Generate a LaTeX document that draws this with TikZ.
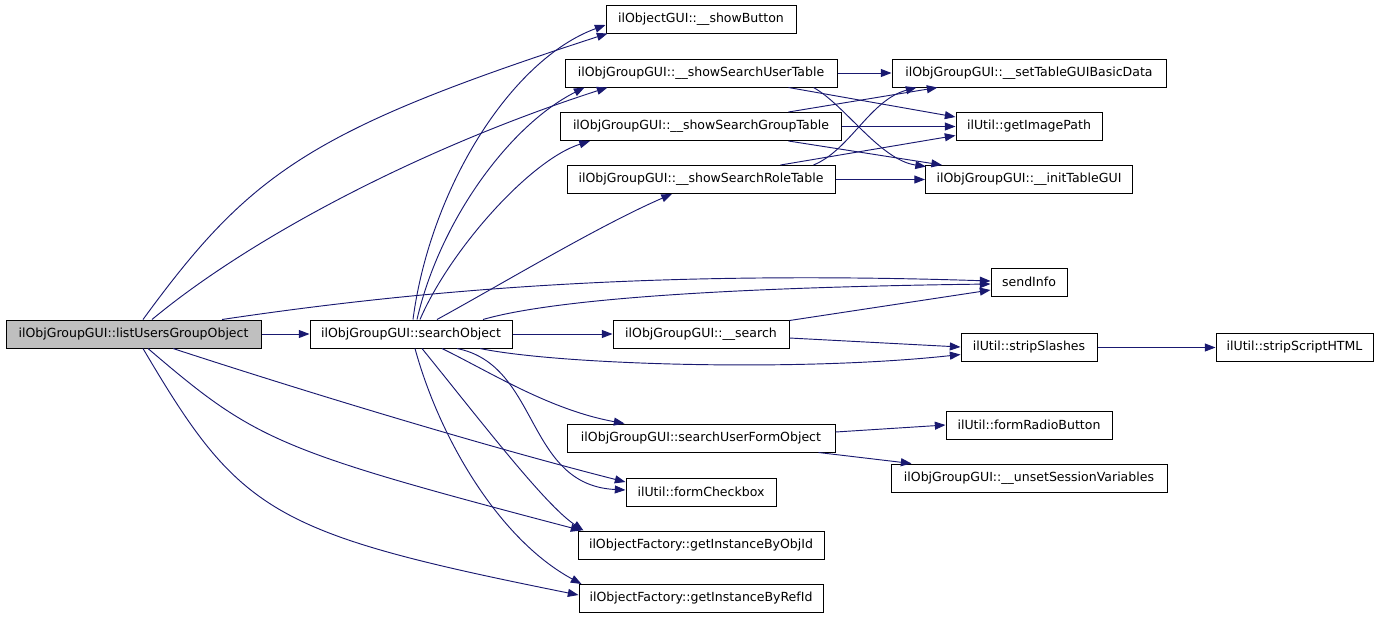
\documentclass[tikz,border=0pt]{standalone}
\usepackage{fontspec}
\setmainfont{DejaVu Sans}
\usetikzlibrary{arrows.meta}
\definecolor{edgeblue}{HTML}{191970}
\definecolor{rootgray}{HTML}{BFBFBF}
\tikzset{
  box/.style={draw=black, line width=0.75pt, inner sep=0pt, minimum height=21pt,
    font=\fontsize{9.4pt}{11pt}\selectfont, text=black},
  bw/.style={minimum width=#1*0.75pt},
  edge/.style={draw=edgeblue, line width=0.7pt, -{Triangle[length=8pt,width=6pt]}},
}
\begin{document}
\begin{tikzpicture}[x=0.75pt,y=-0.75pt]
\useasboundingbox (0,0) rectangle (1379,619);
% nodes
\node[box,bw=255,fill=rootgray] (A) at (133.5,334) {ilObjGroupGUI::listUsersGroupObject};
\node[box,bw=202] (B) at (411,334) {ilObjGroupGUI::searchObject};
\node[box,bw=190] (sb) at (701,19) {ilObjectGUI::\_\_showButton};
\node[box,bw=272] (sut) at (701,73) {ilObjGroupGUI::\_\_showSearchUserTable};
\node[box,bw=281] (sgt) at (701,126.5) {ilObjGroupGUI::\_\_showSearchGroupTable};
\node[box,bw=268] (srt) at (701,179.5) {ilObjGroupGUI::\_\_showSearchRoleTable};
\node[box,bw=274] (stg) at (1029,73) {ilObjGroupGUI::\_\_setTableGUIBasicData};
\node[box,bw=146] (gip) at (1029,126.5) {ilUtil::getImagePath};
\node[box,bw=207] (itg) at (1029,179.5) {ilObjGroupGUI::\_\_initTableGUI};
\node[box,bw=76] (si) at (1029,282) {sendInfo};
\node[box,bw=136] (ss) at (1029,347.5) {ilUtil::stripSlashes};
\node[box,bw=157] (ssh) at (1294.5,347.5) {ilUtil::stripScriptHTML};
\node[box,bw=166] (frb) at (1029,425) {ilUtil::formRadioButton};
\node[box,bw=276] (usv) at (1029,478) {ilObjGroupGUI::\_\_unsetSessionVariables};
\node[box,bw=176] (se) at (701,334) {ilObjGroupGUI::\_\_search};
\node[box,bw=268] (suf) at (701,438) {ilObjGroupGUI::searchUserFormObject};
\node[box,bw=150] (fc) at (701,492) {ilUtil::formCheckbox};
\node[box,bw=246] (gio) at (701,545) {ilObjectFactory::getInstanceByObjId};
\node[box,bw=244] (gir) at (701,598.5) {ilObjectFactory::getInstanceByRefId};
% edges from A
\draw[edge] (A.east) -- (B.west);
\draw[edge] ([shift={(9.5,0)}]A.north) .. controls (250,173) and (310,130) .. ([shift={(2,0)}]sb.south west);
\draw[edge] ([shift={(18.5,0)}]A.north) .. controls (250,238) and (420,148) .. ([shift={(43,0)}]sut.south west);
\draw[edge] ([shift={(88.5,0)}]A.north) .. controls (420,290) and (650,270) .. ([shift={(0,-1)}]si.west);
\draw[edge] ([shift={(39.5,0)}]A.south) .. controls (300,390) and (480,445) .. ([shift={(0,-10)}]fc.west);
\draw[edge] ([shift={(14.5,0)}]A.south) .. controls (255,440) and (275,450) .. ([shift={(4,0)}]gio.north west);
\draw[edge] ([shift={(9.5,0)}]A.south) .. controls (240,513) and (270,533) .. ([shift={(0,-3.5)}]gir.west);
% edges from B
\draw[edge] ([shift={(2,0)}]B.north) .. controls (430,190) and (510,60) .. ([shift={(0,6)}]sb.west);
\draw[edge] ([shift={(6,0)}]B.north) .. controls (440,220) and (510,125) .. ([shift={(20,0)}]sut.south west);
\draw[edge] ([shift={(9,0)}]B.north) .. controls (450,250) and (530,160) .. ([shift={(30,0)}]sgt.south west);
\draw[edge] ([shift={(26,0)}]B.north) .. controls (500,285) and (600,225) .. ([shift={(-29,0)}]srt.south);
\draw[edge] ([shift={(72,0)}]B.north) .. controls (540,303) and (680,288) .. ([shift={(0,2)}]si.west);
\draw[edge] (B.east) -- (se.west);
\draw[edge] ([shift={(69,0)}]B.south) .. controls (560,365) and (800,372) .. ([shift={(0,7)}]ss.west);
\draw[edge] ([shift={(31,0)}]B.south) .. controls (490,372) and (550,410) .. ([shift={(58,0)}]suf.north west);
\draw[edge] ([shift={(46,0)}]B.south) .. controls (540,365) and (525,485) .. ([shift={(0,-2)}]fc.west);
\draw[edge] ([shift={(11,0)}]B.south) .. controls (480,420) and (545,505) .. ([shift={(6,0)}]gio.north west);
\draw[edge] ([shift={(4,0)}]B.south) .. controls (440,440) and (500,540) .. ([shift={(3,0)}]gir.north west);
% other edges
\draw[edge] ([shift={(0,1)}]se.north east) -- ([shift={(0,8)}]si.west);
\draw[edge] ([shift={(0,4)}]se.east) -- ([shift={(0,-0.5)}]ss.west);
\draw[edge] (ss.east) -- (ssh.west);
\draw[edge] ([shift={(0,-6)}]suf.east) -- (frb.west);
\draw[edge] ([shift={(-17,0)}]suf.south east) -- ([shift={(21,0)}]usv.north west);
\draw[edge] (sut.east) -- (stg.west);
\draw[edge] ([shift={(-49,0)}]sut.south east) -- ([shift={(0,5)}]gip.north west);
\draw[edge] ([shift={(-24,0)}]sut.south east) .. controls (845,105) and (880,160) .. ([shift={(1,1.5)}]itg.north west);
\draw[edge] (sgt.east) -- (gip.west);
\draw[edge] ([shift={(-53.5,0)}]sgt.north east) -- ([shift={(46,0)}]stg.south west);
\draw[edge] ([shift={(-53.5,0)}]sgt.south east) -- ([shift={(17,0)}]itg.north west);
\draw[edge] (srt.east) -- (itg.west);
\draw[edge] ([shift={(-55,0)}]srt.north east) -- ([shift={(0,-5.5)}]gip.south west);
\draw[edge] ([shift={(-22,0)}]srt.north east) .. controls (850,150) and (870,100) .. ([shift={(25,0)}]stg.south west);
\end{tikzpicture}
\end{document}
